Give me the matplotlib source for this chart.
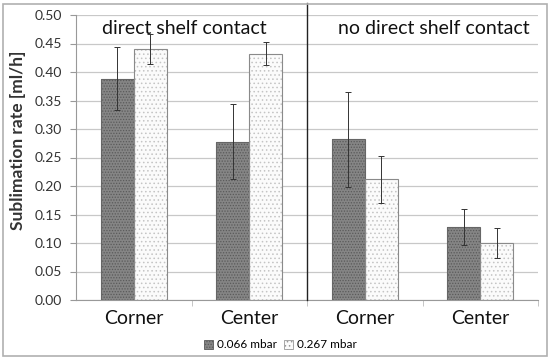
import matplotlib
matplotlib.use("Agg")
import matplotlib.pyplot as plt
from matplotlib.patches import Rectangle, Patch
import numpy as np

categories = ["Corner", "Center", "Corner", "Center"]
series_names = ["0.066 mbar", "0.267 mbar"]
low_p = [0.388, 0.278, 0.282, 0.128]
low_err = [0.055, 0.066, 0.083, 0.032]
high_p = [0.440, 0.432, 0.212, 0.100]
high_err = [0.026, 0.020, 0.041, 0.027]
yticks = [0.00, 0.05, 0.10, 0.15, 0.20, 0.25, 0.30, 0.35, 0.40, 0.45, 0.50]
group_labels = ["direct shelf contact", "no direct shelf contact"]

plt.rcParams['font.family'] = ['Lato', 'DejaVu Sans']
plt.rcParams['hatch.linewidth'] = 0.6

fig = plt.figure(figsize=(5.5, 3.6), dpi=100)
ax = fig.add_axes([76/550, 1 - 300/360, (538 - 76)/550, 285/360])

x = np.arange(len(categories))
w = 0.286

# dark bars with hatch
ax.bar(x - w/2, low_p, w, color='#858585', edgecolor='#5a5a5a', hatch='......', linewidth=0, zorder=2)
ax.bar(x - w/2, low_p, w, fill=False, edgecolor='#666666', linewidth=0.8, zorder=3)
ax.bar(x + w/2, high_p, w, color='#fbfbfb', edgecolor='#c4c4c4', hatch='....', linewidth=0, zorder=2)
ax.bar(x + w/2, high_p, w, fill=False, edgecolor='#8a8a8a', linewidth=0.8, zorder=3)

ax.errorbar(x - w/2, low_p, yerr=low_err, fmt='none', ecolor='#333333', elinewidth=0.7, capsize=2, capthick=0.7, zorder=4)
ax.errorbar(x + w/2, high_p, yerr=high_err, fmt='none', ecolor='#333333', elinewidth=0.7, capsize=2, capthick=0.7, zorder=4)

ax.set_xlim(-0.5, 3.5)
ax.set_ylim(0, 0.5)
ax.set_yticks(yticks)
ax.set_yticklabels([f"{v:.2f}" for v in yticks], fontsize=10, color='#333333')
ax.yaxis.grid(True, color='#c8c8c8', linewidth=0.9, zorder=0)
ax.set_axisbelow(True)

ax.set_xticks(x)
ax.set_xticklabels(categories, fontsize=14, color='#111111')
ax.tick_params(axis='x', length=0, pad=7)
ax.set_xticks([0.5, 1.5, 2.5, 3.5], minor=True)
ax.tick_params(axis='x', which='minor', length=4, color='#bbbbbb')
ax.tick_params(axis='y', length=4, color='#999999', pad=6)

for s in ['top', 'right']:
    ax.spines[s].set_visible(False)
ax.spines['left'].set_color('#999999')
ax.spines['bottom'].set_color('#999999')

fig.text(18/550, 1 - 140/360, "Sublimation rate [ml/h]", rotation=90, fontsize=12.5,
         fontweight='bold', color='#333333', ha='center', va='center')

# divider line
ax.plot([1.5, 1.5], [0, 0.5 + 12/570], color='#222222', linewidth=1.0, clip_on=False, zorder=5)

ax.text(0.435, 0.477, group_labels[0], fontsize=14, ha='center', va='center', color='#111111',
        bbox=dict(facecolor='white', edgecolor='none', pad=1))
ax.text(2.60, 0.477, group_labels[1], fontsize=14, ha='center', va='center', color='#111111',
        bbox=dict(facecolor='white', edgecolor='none', pad=1))

handles = [Patch(facecolor='#858585', edgecolor='#5a5a5a', hatch='......', linewidth=0.6),
           Patch(facecolor='#fbfbfb', edgecolor='#999999', hatch='....', linewidth=0.6)]
fig.legend(handles, series_names, loc='center', bbox_to_anchor=(280/550, 1 - 345/360), ncol=2,
           frameon=False, fontsize=8.5, handlelength=0.8, handleheight=0.8, handletextpad=0.3,
           columnspacing=0.6)

fig.patches.append(Rectangle((3/550, 4/360), 544/550, 352/360, transform=fig.transFigure,
                             fill=False, edgecolor='#b0b0b0', linewidth=1.2))

fig.savefig("out.png", dpi=100)
